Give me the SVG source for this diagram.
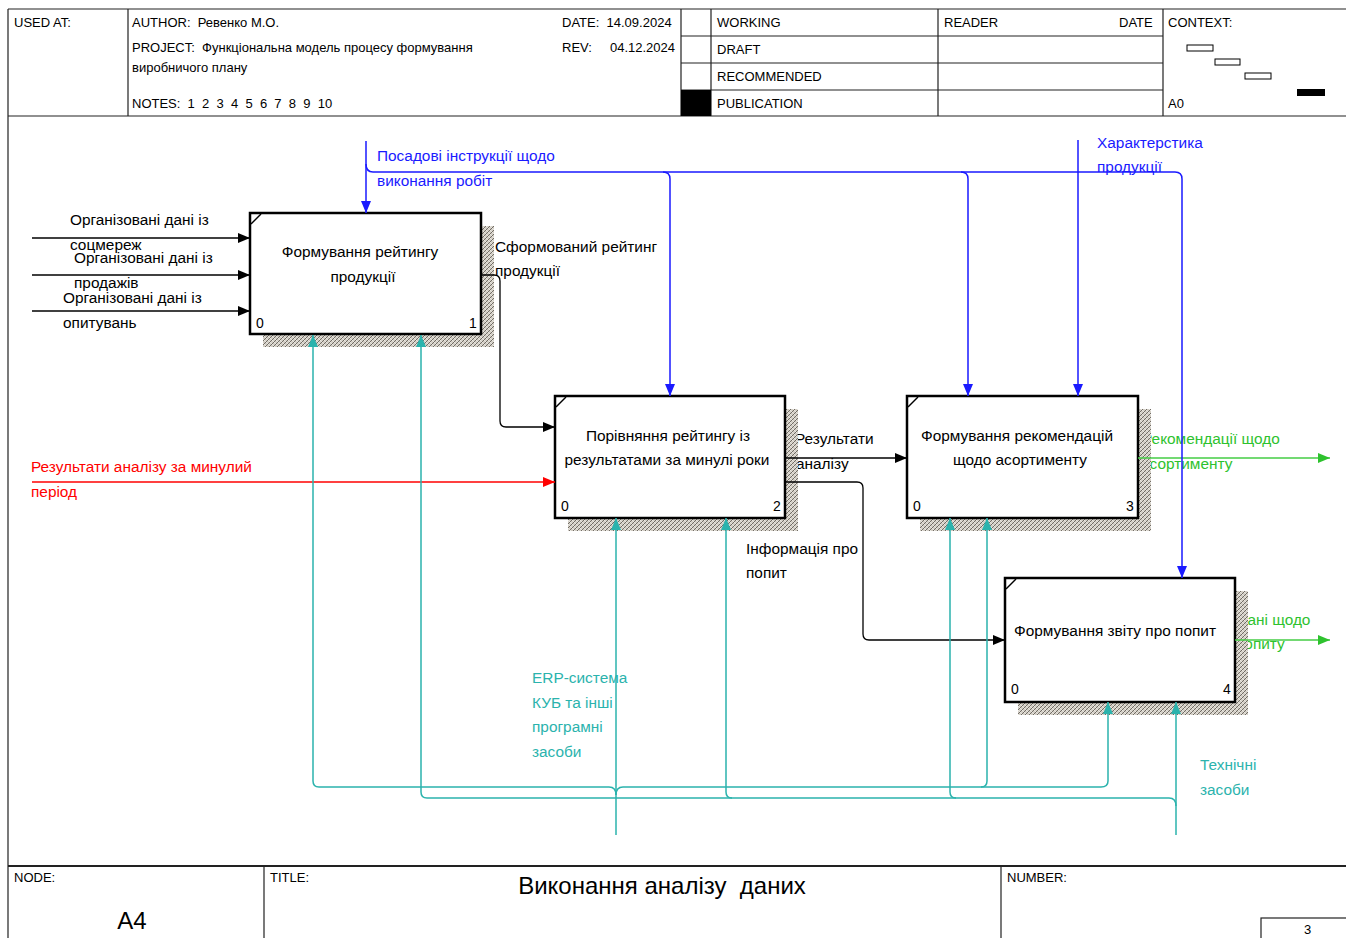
<svg xmlns="http://www.w3.org/2000/svg" width="1346" height="938" viewBox="0 0 1346 938">
<style>
text{font-family:"Liberation Sans",Arial,sans-serif;white-space:pre;}
.h{font-size:13px;fill:#000;}
.lbl{font-size:15.4px;}
.k{fill:#000;}
.b{fill:#1a1aff;}
.t{fill:#2bb3ad;}
.r{fill:#ff0000;}
.g{fill:#2ec22e;}
.box{fill:#fff;stroke:#000;stroke-width:2.5;}
.sh{fill:url(#hatch);}
.num{font-size:14px;fill:#000;}
.fr{stroke:#222;stroke-width:1.2;fill:none;}
.ck{stroke:#000;stroke-width:1.3;fill:none;}
.cb{stroke:#1a1aff;stroke-width:1.5;fill:none;}
.ct{stroke:#2bb3ad;stroke-width:1.5;fill:none;}
.cr{stroke:#ff0000;stroke-width:1.3;fill:none;}
.cg{stroke:#44cc44;stroke-width:1.5;fill:none;}
</style>
<defs>
<pattern id="hatch" width="4" height="4" patternUnits="userSpaceOnUse">
<rect width="4" height="4" fill="#d2cdc4"/>
<path d="M0,4 L4,0 M-1,1 L1,-1 M3,5 L5,3" stroke="#67615a" stroke-width="0.9"/>
<path d="M0,0 L4,4" stroke="#f4f2ee" stroke-width="0.7"/>
</pattern>
<marker id="ak" viewBox="0 0 12 10" refX="12" refY="5" markerWidth="12" markerHeight="10" markerUnits="userSpaceOnUse" orient="auto"><path d="M0,0 L12,5 L0,10 z" fill="#000"/></marker>
<marker id="ab" viewBox="0 0 12 10" refX="12" refY="5" markerWidth="12" markerHeight="10" markerUnits="userSpaceOnUse" orient="auto"><path d="M0,0 L12,5 L0,10 z" fill="#1a1aff"/></marker>
<marker id="at" viewBox="0 0 12 10" refX="12" refY="5" markerWidth="12" markerHeight="10" markerUnits="userSpaceOnUse" orient="auto"><path d="M0,0 L12,5 L0,10 z" fill="#2bb3ad"/></marker>
<marker id="ar" viewBox="0 0 12 10" refX="12" refY="5" markerWidth="12" markerHeight="10" markerUnits="userSpaceOnUse" orient="auto"><path d="M0,0 L12,5 L0,10 z" fill="#ff0000"/></marker>
<marker id="ag" viewBox="0 0 12 10" refX="12" refY="5" markerWidth="12" markerHeight="10" markerUnits="userSpaceOnUse" orient="auto"><path d="M0,0 L12,5 L0,10 z" fill="#2ec22e"/></marker>
</defs>
<rect width="1346" height="938" fill="#fff"/>

<g id="frame">
<path class="fr" d="M8,9 H1346 M8,9 V938 M8,116 H1346 M128,9 V116 M681,9 V116 M711,9 V116 M938,9 V116 M1163,9 V116 M681,36 H1163 M681,63 H1163 M681,90 H1163"/>
<rect x="681" y="90" width="30" height="26" fill="#000"/>
<text class="h" x="14" y="27">USED AT:</text>
<text class="h" x="132" y="27">AUTHOR:  Ревенко М.О.</text>
<text class="h" x="562" y="27">DATE:  14.09.2024</text>
<text class="h" x="132" y="52">PROJECT:  Функціональна модель процесу формування</text>
<text class="h" x="132" y="72">виробничого плану</text>
<text class="h" x="562" y="52">REV:     04.12.2024</text>
<text class="h" x="132" y="108">NOTES:  1  2  3  4  5  6  7  8  9  10</text>
<text class="h" x="717" y="27">WORKING</text>
<text class="h" x="717" y="54">DRAFT</text>
<text class="h" x="717" y="81">RECOMMENDED</text>
<text class="h" x="717" y="108">PUBLICATION</text>
<text class="h" x="944" y="27">READER</text>
<text class="h" x="1119" y="27">DATE</text>
<text class="h" x="1168" y="27">CONTEXT:</text>
<rect x="1187" y="45" width="26" height="6" fill="#fff" stroke="#000" stroke-width="1"/>
<rect x="1215" y="59" width="25" height="6" fill="#fff" stroke="#000" stroke-width="1"/>
<rect x="1245" y="73" width="26" height="6" fill="#fff" stroke="#000" stroke-width="1"/>
<rect x="1297" y="89" width="28" height="7" fill="#000"/>
<text class="h" x="1168" y="108">A0</text>
<path d="M8,866 H1346" stroke="#222" stroke-width="2"/>
<path class="fr" d="M264,866 V938 M1001,866 V938"/>
<text class="h" x="14" y="882">NODE:</text>
<text class="h" x="270" y="882">TITLE:</text>
<text class="h" x="1007" y="882">NUMBER:</text>
<text x="132" y="929" text-anchor="middle" style="font-size:24px">A4</text>
<text x="662" y="894" text-anchor="middle" style="font-size:24px">Виконання аналізу  даних</text>
<rect x="1261" y="918" width="90" height="24" fill="#fff" stroke="#222" stroke-width="1.2"/>
<text class="h" x="1304" y="934">3</text>
</g>

<g id="labels">
<text class="lbl k" x="70" y="225">Організовані дані із</text>
<text class="lbl k" x="70" y="250">соцмереж</text>
<text class="lbl k" x="74" y="263">Організовані дані із</text>
<text class="lbl k" x="74" y="288">продажів</text>
<text class="lbl k" x="63" y="303">Організовані дані із</text>
<text class="lbl k" x="63" y="328">опитувань</text>
<text class="lbl b" x="377" y="161">Посадові інструкції щодо</text>
<text class="lbl b" x="377" y="186">виконання робіт</text>
<text class="lbl b" x="1097" y="148">Характерстика</text>
<text class="lbl b" x="1097" y="172">продукції</text>
<text class="lbl k" x="495" y="252">Сформований рейтинг</text>
<text class="lbl k" x="495" y="276">продукції</text>
<text class="lbl k" x="795" y="444">Результати</text>
<text class="lbl k" x="796" y="469">аналізу</text>
<text class="lbl k" x="746" y="554">Інформація про</text>
<text class="lbl k" x="746" y="578">попит</text>
<text class="lbl r" x="31" y="472">Результати аналізу за минулий</text>
<text class="lbl r" x="31" y="497">період</text>
<text class="lbl g" x="1142" y="444">Рекомендації щодо</text>
<text class="lbl g" x="1141" y="469">асортименту</text>
<text class="lbl g" x="1237" y="625">Дані щодо</text>
<text class="lbl g" x="1236" y="649">попиту</text>
<text class="lbl t" x="532" y="683">ERP-система</text>
<text class="lbl t" x="532" y="708">КУБ та інші</text>
<text class="lbl t" x="532" y="732">програмні</text>
<text class="lbl t" x="532" y="757">засоби</text>
<text class="lbl t" x="1200" y="770">Технічні</text>
<text class="lbl t" x="1200" y="795">засоби</text>
</g>

<g id="node1">
<rect class="sh" x="263" y="226" width="231" height="121"/>
<rect class="box" x="250" y="213" width="231" height="121"/>
<path d="M251,224 L261,214" stroke="#000" stroke-width="1.5"/>
<text class="lbl k" x="360" y="257" text-anchor="middle">Формування рейтингу</text>
<text class="lbl k" x="363" y="282" text-anchor="middle">продукції</text>
<text class="num" x="256" y="328">0</text>
<text class="num" x="469" y="328">1</text>
</g>
<g id="node2">
<rect class="sh" x="568" y="409" width="230" height="122"/>
<rect class="box" x="555" y="396" width="230" height="122"/>
<path d="M556,407 L566,397" stroke="#000" stroke-width="1.5"/>
<text class="lbl k" x="668" y="441" text-anchor="middle">Порівняння рейтингу із</text>
<text class="lbl k" x="667" y="465" text-anchor="middle">результатами за минулі роки</text>
<text class="num" x="561" y="511">0</text>
<text class="num" x="773" y="511">2</text>
</g>
<g id="node3">
<rect class="sh" x="920" y="409" width="231" height="122"/>
<rect class="box" x="907" y="396" width="231" height="122"/>
<path d="M908,407 L918,397" stroke="#000" stroke-width="1.5"/>
<text class="lbl k" x="1017" y="441" text-anchor="middle">Формування рекомендацій</text>
<text class="lbl k" x="1020" y="465" text-anchor="middle">щодо асортименту</text>
<text class="num" x="913" y="511">0</text>
<text class="num" x="1126" y="511">3</text>
</g>
<g id="node4">
<rect class="sh" x="1018" y="591" width="230" height="124"/>
<rect class="box" x="1005" y="578" width="230" height="124"/>
<path d="M1006,589 L1016,579" stroke="#000" stroke-width="1.5"/>
<text class="lbl k" x="1115" y="636" text-anchor="middle">Формування звіту про попит</text>
<text class="num" x="1011" y="694">0</text>
<text class="num" x="1223" y="694">4</text>
</g>

<g id="connectors">
<path class="ck" d="M32,238 H250" marker-end="url(#ak)"/>
<path class="ck" d="M32,275 H250" marker-end="url(#ak)"/>
<path class="ck" d="M32,311 H250" marker-end="url(#ak)"/>
<path class="ck" d="M481,275 H494 Q500,275 500,281 V421 Q500,427 506,427 H555" marker-end="url(#ak)"/>
<path class="ck" d="M785,458 H907" marker-end="url(#ak)"/>
<path class="ck" d="M785,482 H857 Q863,482 863,488 V634 Q863,640 869,640 H1005" marker-end="url(#ak)"/>
<path class="cr" d="M32,482 H555" marker-end="url(#ar)"/>
<path class="cg" d="M1138,458 H1330" marker-end="url(#ag)"/>
<path class="cg" d="M1235,640 H1330" marker-end="url(#ag)"/>
<path class="cb" d="M366,141 V213" marker-end="url(#ab)"/>
<path class="cb" d="M366,164 Q366,172 373,172 H1175 Q1182,172 1182,179 V578" marker-end="url(#ab)"/>
<path class="cb" d="M663,172 Q670,172 670,179 V396" marker-end="url(#ab)"/>
<path class="cb" d="M961,172 Q968,172 968,179 V396" marker-end="url(#ab)"/>
<path class="cb" d="M1078,140 V396" marker-end="url(#ab)"/>
<path class="ct" d="M616,835 V518" marker-end="url(#at)"/>
<path class="ct" d="M616,795 Q616,787 609,787 H319 Q313,787 313,781 V335" marker-end="url(#at)"/>
<path class="ct" d="M616,795 Q616,787 623,787 H1101 Q1108,787 1108,781 V702" marker-end="url(#at)"/>
<path class="ct" d="M981,787 Q987,787 987,781 V518" marker-end="url(#at)"/>
<path class="ct" d="M1176,835 V702" marker-end="url(#at)"/>
<path class="ct" d="M1176,806 Q1176,798 1169,798 H427 Q421,798 421,792 V335" marker-end="url(#at)"/>
<path class="ct" d="M732,798 Q726,798 726,792 V518" marker-end="url(#at)"/>
<path class="ct" d="M956,798 Q950,798 950,792 V518" marker-end="url(#at)"/>
</g>
</svg>
